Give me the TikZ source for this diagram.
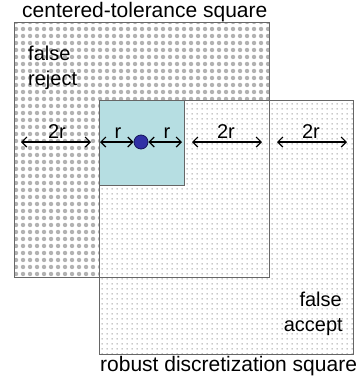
\documentclass[tikz,border=0pt]{standalone}
\usepackage{fontspec}
\setmainfont{Liberation Sans}
\usetikzlibrary{patterns.meta,arrows.meta}
\definecolor{cyanfill}{RGB}{182,222,226}
\definecolor{dotfill}{RGB}{48,48,165}
\definecolor{dotline}{RGB}{20,20,90}
\tikzdeclarepattern{name=graydots, type=colored,
  bottom left={(0pt,0pt)}, top right={(6.5pt,6.5pt)}, tile size={(6.5pt,6.5pt)},
  code={\fill[gray!60] (3.25pt,3.25pt) circle (2.35pt);}}
\tikzdeclarepattern{name=finedots, type=colored,
  bottom left={(0pt,0pt)}, top right={(5pt,5pt)}, tile size={(5pt,5pt)},
  code={\fill[black!50] (2pt,2pt) rectangle (3pt,3pt);}}
\begin{document}
\begin{tikzpicture}[x=1pt,y=-1pt,
  sq/.style={draw=black!60, line width=1pt, inner sep=0pt, outer sep=0pt},
  lbl/.style={font=\fontsize{20}{25}\selectfont, inner sep=0pt},
  ttl/.style={font=\fontsize{21}{25}\selectfont, inner sep=0pt},
  dimline/.style={{Straight Barb[length=5pt,width=10pt]}-{Straight Barb[length=5pt,width=10pt]}, line width=1.2pt}]
\useasboundingbox (0,0) rectangle (360,381);
\fill[white] (0,0) rectangle (360,381);
% squares
\node[sq, minimum width=255pt, minimum height=255pt, pattern=graydots, anchor=north west] (cts) at (14,22) {};
\node[sq, minimum width=254pt, minimum height=254pt, preaction={fill=white}, pattern=finedots, anchor=north west] (rds) at (99,100) {};
\node[sq, minimum width=85pt, minimum height=85pt, fill=cyanfill, anchor=north west] (tol) at (99,100) {};
\draw[sq] (cts.north west) rectangle (cts.south east);
\draw[sq] (rds.north west) rectangle (rds.south east);
\draw[sq] (tol.north west) rectangle (tol.south east);
% titles
\node[ttl, anchor=base west] (t1) at (22,17) {centered-tolerance square};
\node[ttl, anchor=base west] (t2) at (100,371) {robust discretization square};
\node[lbl, anchor=base west] (fr1) at (28,60) {false};
\node[lbl, anchor=base west] (fr2) at (28,85) {reject};
\node[lbl, anchor=base east] (fa1) at (342,306) {false};
\node[lbl, anchor=base east] (fa2) at (343,331) {accept};
% dot
\node[circle, fill=dotfill, draw=dotline, line width=0.8pt, minimum size=14pt, inner sep=0pt] (dot) at (141,142) {};
% arrow ends
\coordinate (a1) at (21,142);
\coordinate (a2) at (91,142);
\coordinate (b1) at (100,142);
\coordinate (c2) at (182,142);
\coordinate (d1) at (192,142);
\coordinate (d2) at (262,142);
\coordinate (e1) at (277,142);
\coordinate (e2) at (347,142);
\draw[dimline] (a1) -- (a2);
\draw[dimline] (b1) -- (dot.west);
\draw[dimline] (dot.east) -- (c2);
\draw[dimline] (d1) -- (d2);
\draw[dimline] (e1) -- (e2);
\node[lbl, anchor=base] (l1) at (57,138) {2r};
\node[lbl, anchor=base] (l2) at (118,138) {r};
\node[lbl, anchor=base] (l3) at (167,138) {r};
\node[lbl, anchor=base] (l4) at (226,138) {2r};
\node[lbl, anchor=base] (l5) at (311,138) {2r};
\end{tikzpicture}
\end{document}
